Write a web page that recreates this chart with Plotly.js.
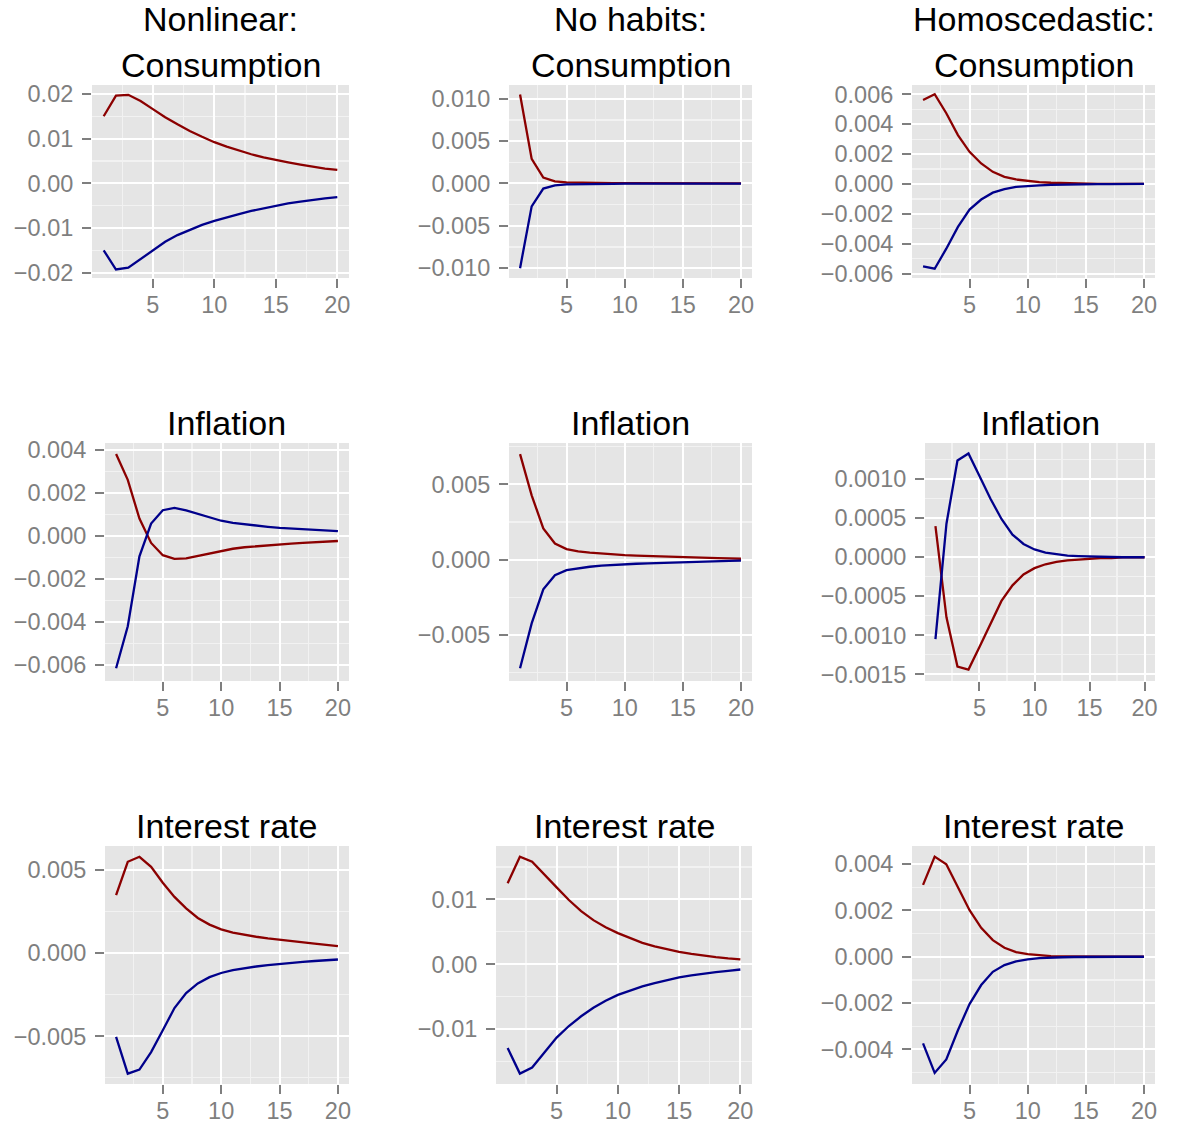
<!DOCTYPE html>
<html>
<head>
<meta charset="utf-8">
<script src="https://cdn.plot.ly/plotly-3.0.1.min.js"></script>
<style>html,body{margin:0;padding:0;background:#fff;}#chart{width:1178px;height:1124px;}</style>
</head>
<body>
<div id="chart"></div>
<script>
// ---- data ----
var horizon = [1,2,3,4,5,6,7,8,9,10,11,12,13,14,15,16,17,18,19,20];

var nlConsRed  = [0.0150,0.0196,0.0198,0.0184,0.0166,0.0148,0.0132,0.0117,0.0104,0.0092,0.0082,0.0073,0.0065,0.0058,0.0052,0.0047,0.0042,0.0037,0.0033,0.0030];
var nlConsBlue = [-0.0150,-0.0193,-0.0189,-0.0170,-0.0149,-0.0131,-0.0116,-0.0104,-0.0093,-0.0084,-0.0076,-0.0069,-0.0062,-0.0056,-0.0050,-0.0045,-0.0041,-0.0037,-0.0034,-0.0031];

var nhConsRed  = [0.0105,0.0029,0.0007,0.00025,0.00012,0.00008,0.00006,0.00005,0.00004,0.00003,0.00003,0.00002,0.00002,0.00002,0.00001,0.00001,0.00001,0.00001,0.00001,0.00001];
var nhConsBlue = [-0.0100,-0.0027,-0.0006,-0.00022,-0.00012,-0.00008,-0.00006,-0.00005,-0.00004,-0.00003,-0.00003,-0.00002,-0.00002,-0.00002,-0.00001,-0.00001,-0.00001,-0.00001,-0.00001,-0.00001];

var hoConsRed  = [0.00562,0.0060,0.00473,0.00327,0.00215,0.00137,0.00081,0.00048,0.0003,0.0002,0.00012,0.00008,0.00005,0.00003,0.00002,0.00001,0.00001,0.00001,0.0,0.0];
var hoConsBlue = [-0.00551,-0.00567,-0.00433,-0.00287,-0.00171,-0.00104,-0.00058,-0.00035,-0.0002,-0.00013,-0.00009,-0.00006,-0.00004,-0.00003,-0.00002,-0.00001,-0.00001,-0.00001,0.0,0.0];

var nlInflRed  = [0.0038,0.0026,0.0008,-0.00033,-0.0009,-0.00107,-0.00105,-0.00094,-0.00081,-0.00069,-0.0006,-0.00053,-0.00048,-0.00043,-0.00039,-0.00036,-0.00033,-0.0003,-0.00027,-0.00024];
var nlInflBlue = [-0.00615,-0.0042,-0.00095,0.00057,0.00119,0.0013,0.00118,0.00101,0.00084,0.0007,0.0006,0.00053,0.00047,0.00042,0.00037,0.00034,0.00031,0.00028,0.00025,0.00022];

var nhInflRed  = [0.0070,0.00427,0.00207,0.00107,0.0007,0.00055,0.00047,0.0004,0.00035,0.0003,0.00027,0.00024,0.00021,0.00019,0.00016,0.00014,0.00012,0.0001,0.00008,0.00006];
var nhInflBlue = [-0.0072,-0.00423,-0.00197,-0.00103,-0.0007,-0.00056,-0.00047,-0.0004,-0.00034,-0.0003,-0.00027,-0.00024,-0.00021,-0.00019,-0.00016,-0.00014,-0.00012,-0.0001,-0.00008,-0.00006];

var hoInflRed  = [0.0004,-0.00077,-0.0014,-0.00144,-0.00115,-0.00085,-0.00056,-0.00036,-0.00022,-0.00014,-0.00009,-0.00006,-0.00004,-0.00003,-0.00002,-0.00001,-0.00001,0.0,0.0,0.0];
var hoInflBlue = [-0.00105,0.00043,0.00124,0.00133,0.00104,0.00075,0.00049,0.00029,0.00017,0.0001,0.00006,0.00004,0.00002,0.000015,0.00001,0.000005,0.0,0.0,0.0,0.0];

var nlRateRed  = [0.00349,0.0055,0.0058,0.0052,0.00424,0.00339,0.00270,0.00212,0.00172,0.00143,0.00124,0.0011,0.00099,0.00089,0.0008,0.00072,0.00064,0.00057,0.0005,0.00043];
var nlRateBlue = [-0.00504,-0.00725,-0.0070,-0.00595,-0.00464,-0.00330,-0.00240,-0.00182,-0.00144,-0.00119,-0.00102,-0.0009,-0.0008,-0.00072,-0.00064,-0.00058,-0.00052,-0.00047,-0.00042,-0.00038];

var nhRateRed  = [0.01247,0.01657,0.0158,0.0139,0.01185,0.0099,0.0082,0.0068,0.0057,0.0048,0.004,0.0033,0.00275,0.0023,0.0019,0.0016,0.0013,0.0011,0.0009,0.00075];
var nhRateBlue = [-0.01288,-0.01683,-0.0159,-0.0136,-0.01128,-0.0095,-0.0080,-0.0067,-0.0056,-0.0047,-0.0040,-0.0034,-0.0029,-0.0024,-0.0020,-0.0017,-0.0014,-0.0012,-0.0010,-0.0008];

var hoRateRed  = [0.0031,0.00432,0.00399,0.003,0.00201,0.00125,0.00072,0.00039,0.0002,0.00011,0.00006,0.00003,0.00002,0.00001,0.0,0.0,0.0,0.0,0.0,0.0];
var hoRateBlue = [-0.00374,-0.00501,-0.00443,-0.00317,-0.00204,-0.00122,-0.00065,-0.00036,-0.0002,-0.00011,-0.00006,-0.00003,-0.00002,-0.00001,0.0,0.0,0.0,0.0,0.0,0.0];

var panelTitles = ["Nonlinear:|Consumption","No habits:|Consumption","Homoscedastic:|Consumption",
                   "Inflation","Inflation","Inflation",
                   "Interest rate","Interest rate","Interest rate"];
var xTicks = [5,10,15,20];

// ---- layout geometry ----
var W = 1178, H = 1124;
var panels = [
  {red:nlConsRed, blue:nlConsBlue, x0:92,  x1:349,  y0:85,  y1:278,  yr:[-0.0212,0.0220],   dt:0.01,   fmt:'.2f'},
  {red:nhConsRed, blue:nhConsBlue, x0:509, x1:752,  y0:85,  y1:278,  yr:[-0.01116,0.01162], dt:0.005,  fmt:'.3f'},
  {red:hoConsRed, blue:hoConsBlue, x0:912, x1:1155, y0:85,  y1:278,  yr:[-0.00629,0.00662], dt:0.002,  fmt:'.3f'},
  {red:nlInflRed, blue:nlInflBlue, x0:105, x1:349,  y0:443, y1:681,  yr:[-0.00674,0.00431], dt:0.002,  fmt:'.3f'},
  {red:nhInflRed, blue:nhInflBlue, x0:509, x1:752,  y0:443, y1:681,  yr:[-0.00805,0.00774], dt:0.005,  fmt:'.3f'},
  {red:hoInflRed, blue:hoInflBlue, x0:925, x1:1155, y0:443, y1:681,  yr:[-0.001586,0.001464], dt:0.0005, fmt:'.4f'},
  {red:nlRateRed, blue:nlRateBlue, x0:105, x1:349,  y0:846, y1:1084, yr:[-0.00787,0.00645], dt:0.005,  fmt:'.3f'},
  {red:nhRateRed, blue:nhRateBlue, x0:496, x1:752,  y0:846, y1:1084, yr:[-0.01843,0.01822], dt:0.01,   fmt:'.2f'},
  {red:hoRateRed, blue:hoRateBlue, x0:912, x1:1155, y0:846, y1:1084, yr:[-0.00549,0.00478], dt:0.002,  fmt:'.3f'}
];
var titleY = [[19.5,65],[19.5,65],[19.5,65],[422.5],[422.5],[422.5],[826],[826],[826]];

var tickFont = {family:'"Liberation Sans", Arial, Helvetica, sans-serif', size:23.5, color:'#7F7F7F'};
var titleFont = {family:'"Liberation Sans", Arial, Helvetica, sans-serif', size:34, color:'#000000'};

var data = [];
var layout = {
  width:W, height:H, margin:{l:0,r:0,t:0,b:0},
  paper_bgcolor:'#FFFFFF', plot_bgcolor:'#E5E5E5',
  showlegend:false, annotations:[]
};

panels.forEach(function(p, i){
  var n = i+1;
  var xa = 'x'+(n===1?'':n), ya = 'y'+(n===1?'':n);
  data.push({x:horizon, y:p.red, xaxis:xa, yaxis:ya, type:'scatter', mode:'lines',
             line:{color:'#8B0000', width:2.3}, hoverinfo:'skip'});
  data.push({x:horizon, y:p.blue, xaxis:xa, yaxis:ya, type:'scatter', mode:'lines',
             line:{color:'#00008B', width:2.3}, hoverinfo:'skip'});
  layout['xaxis'+(n===1?'':n)] = {
    domain:[p.x0/W, p.x1/W], anchor:ya, range:[0.05,20.95],
    tickvals:xTicks, ticktext:xTicks.map(String),
    ticks:'outside', ticklen:9, tickwidth:2, tickcolor:'#7F7F7F',
    ticklabelstandoff:-3,
    tickfont:tickFont, showline:false, zeroline:false,
    showgrid:true, gridcolor:'#FFFFFF', gridwidth:2,
    minor:{tick0:0, dtick:2.5, showgrid:true, gridcolor:'#F2F2F2', gridwidth:1.2, ticks:''},
    fixedrange:true
  };
  layout['yaxis'+(n===1?'':n)] = {
    domain:[1-p.y1/H, 1-p.y0/H], anchor:xa, range:p.yr,
    tick0:0, dtick:p.dt, tickformat:p.fmt,
    ticks:'outside', ticklen:9, tickwidth:2, tickcolor:'#7F7F7F',
    ticklabelstandoff:4,
    tickfont:tickFont, showline:false, zeroline:false,
    showgrid:true, gridcolor:'#FFFFFF', gridwidth:2,
    minor:{tick0:0, dtick:p.dt/2, showgrid:true, gridcolor:'#F2F2F2', gridwidth:1.2, ticks:''},
    fixedrange:true
  };
  var lines = panelTitles[i].split('|');
  lines.forEach(function(t, k){
    layout.annotations.push({
      text:t, xref:'paper', yref:'paper',
      x:(p.x0+p.x1)/2/W, y:1-titleY[i][k]/H,
      xanchor:'center', yanchor:'middle', showarrow:false, font:titleFont
    });
  });
});

Plotly.newPlot('chart', data, layout, {displayModeBar:false, staticPlot:true});
</script>
</body>
</html>
